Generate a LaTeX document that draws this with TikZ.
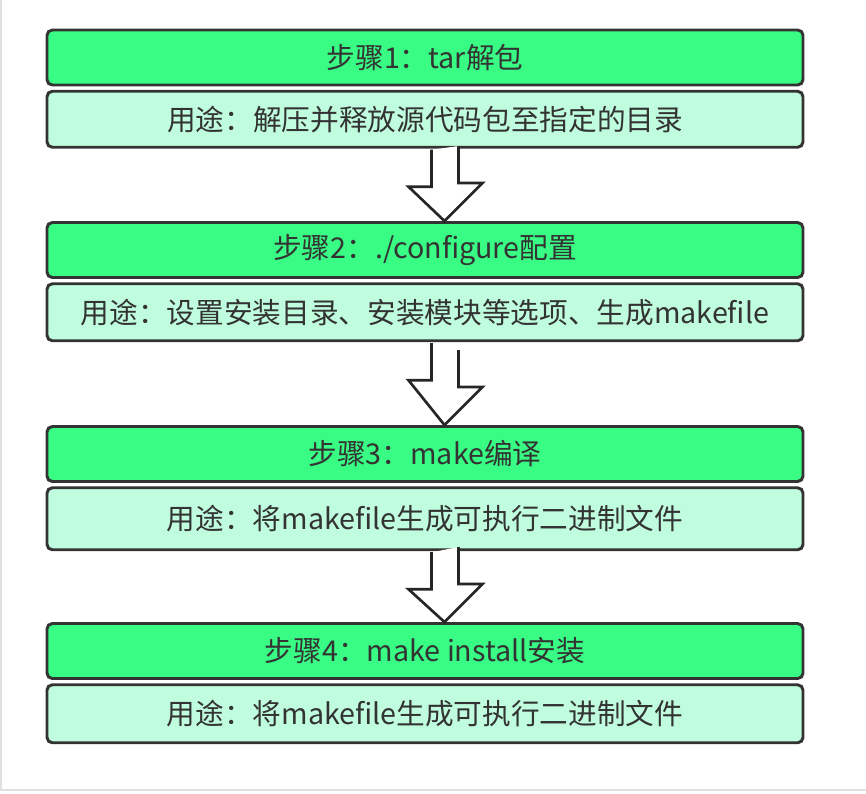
\documentclass[tikz,border=0pt]{standalone}
\usepackage{fontspec}
\setmainfont{Noto Sans CJK SC}
\begin{document}
\begin{tikzpicture}[x=0.75pt,y=-0.75pt,
  hdr/.style={draw=black!80,line width=2.2pt,rounded corners=4pt,fill=hdrgreen,text=black!80,font=\fontsize{21.5}{24}\selectfont},
  sub/.style={draw=black!80,line width=2.2pt,rounded corners=4pt,fill=subgreen,text=black!80,font=\fontsize{21.5}{24}\selectfont},
  bigarrow/.style={draw=black!85,line width=2pt,fill=white,line join=miter}]
\definecolor{hdrgreen}{HTML}{38FC84}
\definecolor{subgreen}{HTML}{C0FDDE}
\useasboundingbox (0,0) rectangle (866,793);
\fill[white] (0,0) rectangle (866,793);
\draw[black!12,line width=1.5pt] (1,0) -- (1,790) -- (866,790);
\newcommand{\stepblock}[5]{%
  \node[hdr,minimum width=756*0.75pt,minimum height=55*0.75pt] (h#1) at (425,#2) {#4};
  \node[sub,minimum width=756*0.75pt,minimum height=#5*0.75pt,anchor=north] (s#1) at ([yshift=-2.5pt]h#1.south) {用途：#3};}
\stepblock{1}{57.5}{解压并释放源代码包至指定的目录}{步骤1：tar解包}{56}
\stepblock{2}{250}{设置安装目录、安装模块等选项、生成makefile}{步骤2：./configure配置}{57}
\stepblock{3}{454}{将makefile生成可执行二进制文件}{步骤3：make编译}{62}
\stepblock{4}{651}{将makefile生成可执行二进制文件}{步骤4：make install安装}{58}
\newcommand{\bigarr}[2]{%
  \path (s#1.south) ++(20,0) coordinate (a#1);
  \draw[bigarrow] (a#1) ++(-13.5,1) -- ++(0,37) -- ++(-23,0) -- ([xshift=19.5*0.75pt]h#2.north) -- ++(38,-38) -- ++(-24,0) -- ++(0,-37);}
\bigarr{1}{2}
\bigarr{2}{3}
\bigarr{3}{4}
\end{tikzpicture}
\end{document}
